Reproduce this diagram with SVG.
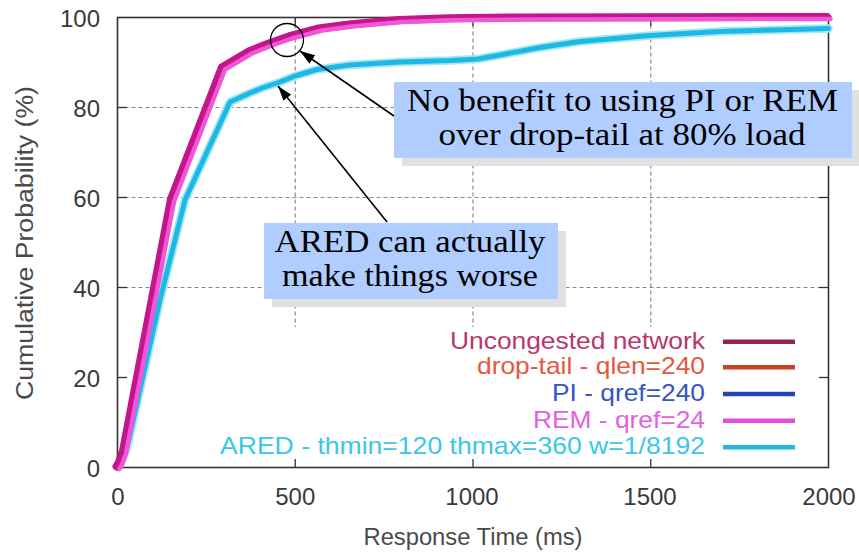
<svg xmlns="http://www.w3.org/2000/svg" xmlns:xlink="http://www.w3.org/1999/xlink" width="859" height="552" viewBox="0 0 859 552">
  <style>
    .tick-label { font-family: "Liberation Sans", Arial, sans-serif; font-size: 24px; fill: #3a3a3a; }
    .axis-title { font-family: "Liberation Sans", Arial, sans-serif; font-size: 23px; fill: #4a4a4a; }
    .key-text { font-family: "Liberation Sans", Arial, sans-serif; font-size: 24px; text-anchor: end; }
    .key-line { stroke-width: 4.5; stroke-linecap: butt; }
    .grid line { stroke: #8a8a8a; stroke-width: 1.2; stroke-dasharray: 4 3; }
    .tick { stroke: #333; stroke-width: 1.3; }
    .frame { fill: none; stroke: #333; stroke-width: 1.6; }
    .callout-bg { fill: #b0cdff; }
    .callout-shadow { fill: #e0e0e0; }
    .callout-text { font-family: "Liberation Serif", "Times New Roman", serif; font-size: 31px; fill: #000; text-anchor: middle; }
    .pointer { stroke: #000; stroke-width: 1.6; fill: none; }
    .curve { fill: none; stroke-linejoin: round; stroke-linecap: round; }
  </style>
  <defs>
    <marker id="arrowhead" viewBox="0 0 15 10" refX="15" refY="5" markerWidth="15" markerHeight="10" markerUnits="userSpaceOnUse" orient="auto">
      <path d="M0,0 L15,5 L0,10 z" fill="#000"/>
    </marker>
    <!-- CDF traces in plot coordinates: x = 117.5 + 0.3555*ms, y = 467.5 - 4.5*percent -->
    <path id="cdf-main" d="M117.5,467.5 L120,463 L124,452 L172,200 L223,68 L250,52 L270,44 L290,37 L320,29 L350,25 L400,20.5 L450,18.8 L520,18 L828.5,17.5"/>
    <path id="cdf-ared" d="M117.5,467.5 L121,463 L127,448 L160,300 L185,200 L230,102 L250,93 L262,88 L280,82 L295,76 L317,69.5 L350,65 L400,62 L450,60.5 L478,59 L500,55 L540,47.5 L580,41.5 L650,35.5 L720,31.5 L828.5,28.5"/>
  </defs>

  <rect width="859" height="552" fill="#fff"/>

  <!-- dashed grid -->
  <g id="grid" class="grid">
    <line x1="117.5" y1="107.5" x2="828.5" y2="107.5"/>
    <line x1="117.5" y1="197.5" x2="828.5" y2="197.5"/>
    <line x1="117.5" y1="287.5" x2="828.5" y2="287.5"/>
    <line x1="295.25" y1="17.5" x2="295.25" y2="327"/>
    <line x1="473" y1="17.5" x2="473" y2="327"/>
    <line x1="650.75" y1="17.5" x2="650.75" y2="327"/>
  </g>

  <!-- key background hides the grid beneath it -->
  <rect id="key-bg" x="118.5" y="327" width="709" height="139.5" fill="#fff"/>

  <!-- frame, ticks and tick labels -->
  <g id="axes">
    <rect class="frame" x="117.5" y="17.5" width="711" height="450"/>
    <g class="tick">
      <line x1="117.5" y1="377.5" x2="127" y2="377.5"/>
      <line x1="117.5" y1="287.5" x2="127" y2="287.5"/>
      <line x1="117.5" y1="197.5" x2="127" y2="197.5"/>
      <line x1="117.5" y1="107.5" x2="127" y2="107.5"/>
      <line x1="828.5" y1="377.5" x2="819" y2="377.5"/>
      <line x1="828.5" y1="287.5" x2="819" y2="287.5"/>
      <line x1="828.5" y1="197.5" x2="819" y2="197.5"/>
      <line x1="828.5" y1="107.5" x2="819" y2="107.5"/>
      <line x1="295.25" y1="467.5" x2="295.25" y2="459"/>
      <line x1="473" y1="467.5" x2="473" y2="459"/>
      <line x1="650.75" y1="467.5" x2="650.75" y2="459"/>
      <line x1="295.25" y1="17.5" x2="295.25" y2="26"/>
      <line x1="473" y1="17.5" x2="473" y2="26"/>
      <line x1="650.75" y1="17.5" x2="650.75" y2="26"/>
    </g>
    <g class="tick-label" text-anchor="end">
      <text x="100" y="477">0</text>
      <text x="100" y="387">20</text>
      <text x="100" y="297">40</text>
      <text x="100" y="207">60</text>
      <text x="100" y="117">80</text>
      <text x="100" y="27">100</text>
    </g>
    <g class="tick-label" text-anchor="middle">
      <text x="118" y="505">0</text>
      <text x="295.25" y="505">500</text>
      <text x="472" y="505">1000</text>
      <text x="650" y="505">1500</text>
      <text x="829" y="505">2000</text>
    </g>
    <text class="axis-title" x="473" y="545" text-anchor="middle" textLength="219" lengthAdjust="spacingAndGlyphs">Response Time (ms)</text>
    <text class="axis-title" transform="translate(33,243) rotate(-90)" text-anchor="middle" textLength="314" lengthAdjust="spacingAndGlyphs">Cumulative Probability (%)</text>
  </g>

  <!-- key -->
  <g id="legend">
    <text class="key-text" x="705" y="348.5" fill="#b8386c" textLength="255" lengthAdjust="spacingAndGlyphs">Uncongested network</text>
    <line class="key-line" x1="723" y1="341.7" x2="795" y2="341.7" stroke="#9a1f52"/>
    <text class="key-text" x="705" y="374.2" fill="#e4583e" textLength="228" lengthAdjust="spacingAndGlyphs">drop-tail - qlen=240</text>
    <line class="key-line" x1="723" y1="367.3" x2="795" y2="367.3" stroke="#d0401f"/>
    <text class="key-text" x="705" y="401" fill="#3555c2" textLength="153" lengthAdjust="spacingAndGlyphs">PI - qref=240</text>
    <line class="key-line" x1="723" y1="394" x2="795" y2="394" stroke="#2244b4"/>
    <text class="key-text" x="705" y="427.6" fill="#e062e0" textLength="172" lengthAdjust="spacingAndGlyphs">REM - qref=24</text>
    <line class="key-line" x1="723" y1="420.7" x2="795" y2="420.7" stroke="#e050dc"/>
    <text class="key-text" x="705" y="454.3" fill="#3cc6e8" textLength="485" lengthAdjust="spacingAndGlyphs">ARED - thmin=120 thmax=360 w=1/8192</text>
    <line class="key-line" x1="723" y1="447.3" x2="795" y2="447.3" stroke="#22b8dc"/>
  </g>

  <!-- data traces -->
  <g id="curves" class="curve">
    <use xlink:href="#cdf-ared" stroke="#a8e6f6" stroke-width="8.5"/>
    <use xlink:href="#cdf-ared" stroke="#1cb9e4" stroke-width="5"/>
    <use xlink:href="#cdf-main" stroke="#2244b4" stroke-width="6"/>
    <use xlink:href="#cdf-main" stroke="#d8404c" stroke-width="6" transform="translate(0.5,0.5)"/>
    <use xlink:href="#cdf-main" stroke="#c4168a" stroke-width="7" transform="translate(-1.5,-1)"/>
    <use xlink:href="#cdf-main" stroke="#ee58d8" stroke-width="4.5" transform="translate(2,1.5)"/>
  </g>

  <!-- highlight ring at 500 ms -->
  <circle id="highlight" cx="287" cy="40" r="16.5" fill="none" stroke="#000" stroke-width="1.3"/>

  <!-- callout: no benefit -->
  <g id="callout-benefit">
    <rect class="callout-shadow" x="402" y="90" width="458" height="76"/>
    <rect class="callout-bg" x="394" y="82" width="458" height="76"/>
    <text class="callout-text" x="622.5" y="111" textLength="431" lengthAdjust="spacingAndGlyphs">No benefit to using PI or REM</text>
    <text class="callout-text" x="622" y="145" textLength="367" lengthAdjust="spacingAndGlyphs">over drop-tail at 80% load</text>
  </g>

  <!-- callout: ARED -->
  <g id="callout-ared">
    <rect class="callout-shadow" x="272" y="231" width="294" height="76"/>
    <rect class="callout-bg" x="264" y="223" width="294" height="76"/>
    <text class="callout-text" x="410" y="252" textLength="271" lengthAdjust="spacingAndGlyphs">ARED can actually</text>
    <text class="callout-text" x="410" y="286" textLength="256" lengthAdjust="spacingAndGlyphs">make things worse</text>
  </g>

  <!-- pointers from callouts to traces -->
  <g id="connectors" class="pointer">
    <line x1="394" y1="116" x2="300" y2="51" marker-end="url(#arrowhead)"/>
    <line x1="387" y1="222" x2="278" y2="86" marker-end="url(#arrowhead)"/>
  </g>
</svg>
